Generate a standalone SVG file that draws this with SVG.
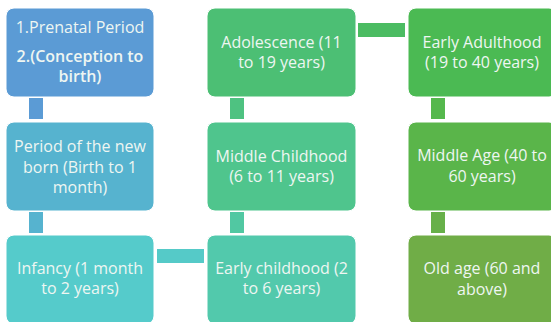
<svg xmlns="http://www.w3.org/2000/svg" width="551" height="322" viewBox="0 0 551 322">
<style>
.box{stroke:#ffffff;stroke-width:1}
.t{font-family:"Open Sans","Liberation Sans",sans-serif;font-size:16px;fill:#EEF6F2;text-anchor:middle}
.b{font-weight:600}
</style>
<rect width="551" height="322" fill="#ffffff"/>
<g id="connectors">
<rect x="29" y="98" width="14" height="21" fill="#5B9BD5"/>
<rect x="29" y="212" width="14" height="21" fill="#56B3CF"/>
<rect x="157" y="249" width="47" height="14" fill="#55CAC8"/>
<rect x="230" y="212" width="14" height="21" fill="#51C8A2"/>
<rect x="230" y="98" width="14" height="21" fill="#4EC281"/>
<rect x="358" y="23" width="47" height="14" fill="#4BBC62"/>
<rect x="431" y="98" width="14" height="21" fill="#55B84D"/>
<rect x="431" y="212" width="14" height="21" fill="#67B049"/>
</g>
<g id="n1"><rect class="box" x="6" y="8" width="148" height="89" rx="8" fill="#5B9BD5"/>
<text class="t" x="80" y="33">1.Prenatal Period</text>
<text class="t b" x="80" y="62">2.(Conception to</text>
<text class="t b" x="80" y="82">birth)</text></g>
<g id="n2"><rect class="box" x="6" y="122" width="148" height="89" rx="8" fill="#56B3CF"/>
<text class="t" x="80" y="152">Period of the new</text>
<text class="t" x="80" y="173">born (Birth to 1</text>
<text class="t" x="80" y="193">month)</text></g>
<g id="n3"><rect class="box" x="6" y="235" width="148" height="89" rx="8" fill="#55CBCB"/>
<text class="t" x="80" y="274">Infancy (1 month</text>
<text class="t" x="80" y="294">to 2 years)</text></g>
<g id="n4"><rect class="box" x="207" y="235" width="149" height="89" rx="8" fill="#52C9AC"/>
<text class="t" x="281.5" y="274">Early childhood (2</text>
<text class="t" x="281.5" y="294">to 6 years)</text></g>
<g id="n5"><rect class="box" x="207" y="122" width="149" height="89" rx="8" fill="#4FC58D"/>
<text class="t" x="281.5" y="162">Middle Childhood</text>
<text class="t" x="281.5" y="182">(6 to 11 years)</text></g>
<g id="n6"><rect class="box" x="207" y="8" width="149" height="89" rx="8" fill="#4CBF74"/>
<text class="t" x="281.5" y="48">Adolescence (11</text>
<text class="t" x="281.5" y="68">to 19 years)</text></g>
<g id="n7"><rect class="box" x="408" y="8" width="149" height="89" rx="8" fill="#4BBA53"/>
<text class="t" x="482" y="48">Early Adulthood</text>
<text class="t" x="482" y="68">(19 to 40 years)</text></g>
<g id="n8"><rect class="box" x="408" y="122" width="149" height="89" rx="8" fill="#5AB54A"/>
<text class="t" x="482" y="161">Middle Age (40 to</text>
<text class="t" x="482" y="182">60 years)</text></g>
<g id="n9"><rect class="box" x="408" y="235" width="149" height="89" rx="8" fill="#70AD47"/>
<text class="t" x="482" y="274">Old age (60 and</text>
<text class="t" x="482" y="295">above)</text></g>
</svg>
